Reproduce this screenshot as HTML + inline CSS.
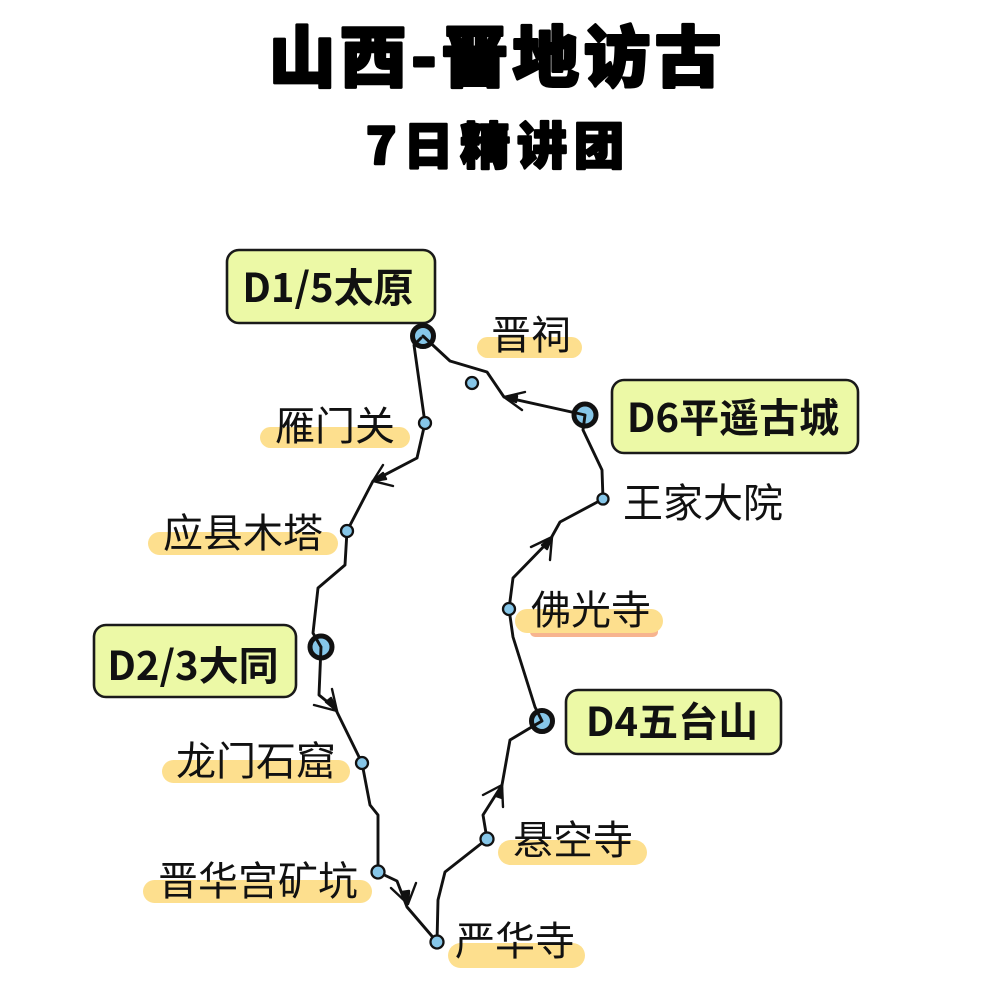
<!DOCTYPE html>
<html><head><meta charset="utf-8"><style>
html,body{margin:0;padding:0;background:#fff;}
svg{display:block;}
.t{font-family:"Liberation Sans","Noto Sans CJK SC",sans-serif;}
</style></head><body>
<svg width="1006" height="1006" viewBox="0 0 1006 1006" xmlns="http://www.w3.org/2000/svg">
<rect width="1006" height="1006" fill="#fff"/>
<!-- Title -->
<text x="495" y="81" text-anchor="middle" font-family="'Noto Sans CJK SC',sans-serif" font-weight="900" font-size="66" textLength="452" lengthAdjust="spacing" fill="#000" stroke="#000" stroke-width="3" stroke-linejoin="round">山西-晋地访古</text>
<text x="495" y="164" text-anchor="middle" font-family="'Noto Sans CJK SC',sans-serif" font-weight="900" font-size="50" textLength="258" lengthAdjust="spacing" fill="#000" stroke="#000" stroke-width="2.4" stroke-linejoin="round">7日精讲团</text>

<!-- highlight bars -->
<g fill="#fddf8e">
<rect x="477" y="337" width="105" height="21" rx="10.5"/>
<rect x="260" y="427" width="150" height="21" rx="10.5"/>
<rect x="148" y="532" width="190" height="23" rx="11.5"/>
<rect x="530" y="626" width="128" height="11" rx="5" fill="#f7b48f"/>
<rect x="515" y="609" width="148" height="24" rx="12"/>
<rect x="162" y="760" width="188" height="23" rx="11.5"/>
<rect x="143" y="880" width="229" height="23" rx="11.5"/>
<rect x="498" y="840" width="149" height="25" rx="12.5"/>
<rect x="448" y="943" width="137" height="25" rx="12.5"/>
</g>

<!-- boxes -->
<g fill="#ecf9a6" stroke="#1a1a1a" stroke-width="2.6">
<rect x="227" y="250" width="208" height="73" rx="12"/>
<rect x="612" y="380" width="246" height="73" rx="12"/>
<rect x="94" y="625" width="202" height="72" rx="12"/>
<rect x="566" y="690" width="215" height="64" rx="12"/>
</g>
<g font-family="'Noto Sans CJK SC','Liberation Sans',sans-serif" font-weight="bold" font-size="40" fill="#111" text-anchor="middle">
<text x="328" y="302">D1/5太原</text>
<text x="733" y="432">D6平遥古城</text>
<text x="193" y="680">D2/3大同</text>
<text x="672" y="736">D4五台山</text>
</g>

<!-- labels -->
<g class="t" font-size="40" fill="#111">
<text x="491" y="349">晋祠</text>
<text x="275" y="440">雁门关</text>
<text x="163" y="547">应县木塔</text>
<text x="623" y="517">王家大院</text>
<text x="531" y="624">佛光寺</text>
<text x="176" y="775">龙门石窟</text>
<text x="158" y="895">晋华宫矿坑</text>
<text x="513" y="854">悬空寺</text>
<text x="455" y="955">严华寺</text>
</g>

<!-- big nodes -->
<g fill="#86c6e8" stroke="#111" stroke-width="5">
<circle cx="423" cy="336" r="10.5"/>
<circle cx="585" cy="415" r="11"/>
<circle cx="321" cy="647" r="11"/>
<circle cx="542" cy="721" r="10.5"/>
</g>

<!-- route -->
<path d="M421,338 L414,345 L425,423 L417,458 L373,481 L347,531 L345,565 L318,588 L313,633 L321,647 M321,647 L319,695 L335,708 L362,763 L370,805 L378,815 L378,872 L397,881 L407,907 L437,942 L438,900 L445,872 L487,839 L483,815 L502,785 L510,740 L530,728 L542,721 M542,721 L535,707 L513,637 L509,609 L513,578 L550,540 L560,522 L603,499 L602,470 L583,430 L585,415 M585,415 L504,397 L487,372 L450,361 L423,336" fill="none" stroke="#111" stroke-width="2.9" stroke-linejoin="round" stroke-linecap="round"/>

<!-- arrowheads -->
<g stroke="#111" stroke-width="2.4" fill="#111" stroke-linecap="round" stroke-linejoin="round">
<path d="M525,392 L504,397 L522,410" fill="none"/>
<path d="M504,397 L517,396 L516,402 Z"/>
<path d="M383,465 L373,481 L393,486" fill="none"/>
<path d="M373,481 L383,473 L386,479 Z"/>
<path d="M332,689 L337,711 L314,705" fill="none"/>
<path d="M337,711 L326,702 L331,698 Z"/>
<path d="M416,883 L408,904 L391,888" fill="none"/>
<path d="M408,904 L402,892 L409,891 Z"/>
<path d="M483,795 L502,785 L503,807" fill="none"/>
<path d="M502,785 L502,798 L496,796 Z"/>
<path d="M531,547 L552,537 L550,560" fill="none"/>
<path d="M552,537 L547,549 L542,545 Z"/>
</g>

<!-- small nodes -->
<g fill="#86c6e8" stroke="#111" stroke-width="2.3">
<circle cx="472" cy="383" r="6"/>
<circle cx="425" cy="423" r="6"/>
<circle cx="347" cy="531" r="6"/>
<circle cx="603" cy="499" r="5.5"/>
<circle cx="509" cy="609" r="6"/>
<circle cx="362" cy="763" r="6"/>
<circle cx="378" cy="872" r="6.5"/>
<circle cx="487" cy="839" r="6.5"/>
<circle cx="437" cy="942" r="6.5"/>
</g>
</svg>
</body></html>
